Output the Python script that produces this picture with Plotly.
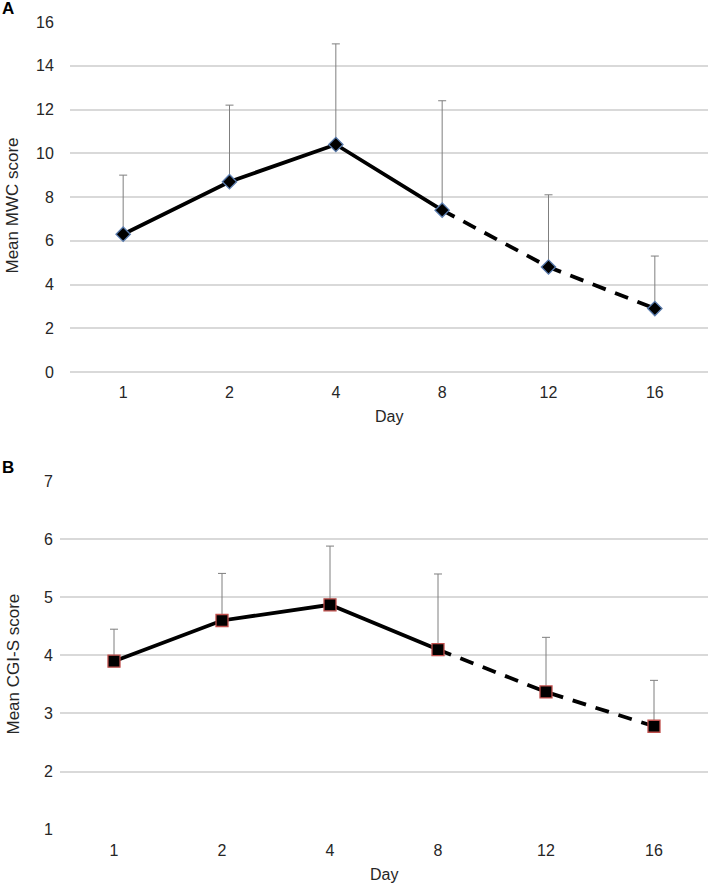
import plotly.graph_objects as go

days = ["1", "2", "4", "8", "12", "16"]

mwc_mean = [6.3, 8.7, 10.4, 7.4, 4.8, 2.9]
mwc_err = [2.7, 3.5, 4.6, 5.0, 3.3, 2.4]

cgi_mean = [3.9, 4.6, 4.87, 4.1, 3.37, 2.78]
cgi_err = [0.55, 0.81, 1.01, 1.30, 0.94, 0.79]

W, H = 708, 888
FONT = "Liberation Sans, Arial, sans-serif"
TXT = "#262626"

fig = go.Figure()

def add_panel(fig, means, errs, xa, ya, symbol, outline, msize):
    fig.add_trace(go.Scatter(
        x=days, y=means, mode="markers", xaxis=xa, yaxis=ya,
        marker=dict(size=1, color="rgba(0,0,0,0)"),
        error_y=dict(type="data", array=errs, arrayminus=[0]*len(errs),
                     symmetric=False, color="#7f7f7f", thickness=1, width=4),
        showlegend=False, hoverinfo="skip"))
    fig.add_trace(go.Scatter(
        x=days[:4], y=means[:4], mode="lines", xaxis=xa, yaxis=ya,
        line=dict(color="black", width=3.8), showlegend=False))
    fig.add_trace(go.Scatter(
        x=days[3:], y=means[3:], mode="lines", xaxis=xa, yaxis=ya,
        line=dict(color="black", width=3.8, dash="14px,10px"), showlegend=False))
    fig.add_trace(go.Scatter(
        x=days, y=means, mode="markers", xaxis=xa, yaxis=ya,
        marker=dict(symbol=symbol, size=msize,
                    color="black", line=dict(color=outline, width=1.3)),
        showlegend=False))

add_panel(fig, mwc_mean, mwc_err, "x", "y", "diamond", "#5a7cae", 11)
add_panel(fig, cgi_mean, cgi_err, "x2", "y2", "square", "#c0504d", 12)

grid = "#d9d9d9"
tickfont = dict(family=FONT, size=16, color=TXT)

common_x = dict(type="category", range=[-0.5, 5.5], showgrid=False,
                showline=False, ticks="outside", ticklen=6,
                tickcolor="rgba(0,0,0,0)", tickfont=tickfont, zeroline=False,
                automargin=False)
common_y = dict(showgrid=True, gridcolor=grid, gridwidth=1.5, showline=False,
                ticks="outside", tickcolor="rgba(0,0,0,0)", tickfont=tickfont,
                automargin=False)

fig.update_layout(
    template="none",
    width=W, height=H,
    margin=dict(l=0, r=0, t=0, b=0, autoexpand=False),
    paper_bgcolor="white", plot_bgcolor="white",
    xaxis=dict(domain=[70/W, 1.0], anchor="y", **common_x),
    yaxis=dict(domain=[1-372/H, 1-22/H], anchor="x", range=[0, 16], dtick=2,
               zeroline=True, zerolinecolor=grid, zerolinewidth=1.5,
               ticklen=12, **common_y),
    xaxis2=dict(domain=[60/W, 1.0], anchor="y2", **common_x),
    yaxis2=dict(domain=[1-830/H, 1-481/H], anchor="x2", range=[0.995, 7],
                dtick=1, zeroline=False, ticklen=3, **common_y),
    annotations=[
        dict(text="<b>A</b>", x=8/W, y=1-8/H, xref="paper", yref="paper",
             xanchor="center", yanchor="middle", showarrow=False,
             font=dict(family=FONT, size=17, color="black")),
        dict(text="<b>B</b>", x=8/W, y=1-467/H, xref="paper", yref="paper",
             xanchor="center", yanchor="middle", showarrow=False,
             font=dict(family=FONT, size=17, color="black")),
        dict(text="Mean MWC score", x=1/W, y=1-206/H, xref="paper", yref="paper",
             xanchor="left", yanchor="middle", textangle=-90, showarrow=False,
             font=dict(family=FONT, size=17, color=TXT)),
        dict(text="Mean CGI-S score", x=1/W, y=1-664/H, xref="paper", yref="paper",
             xanchor="left", yanchor="middle", textangle=-90, showarrow=False,
             font=dict(family=FONT, size=17, color=TXT)),
        dict(text="Day", x=389/W, y=1-417/H, xref="paper", yref="paper",
             xanchor="center", yanchor="middle", showarrow=False,
             font=dict(family=FONT, size=16, color=TXT)),
        dict(text="Day", x=384/W, y=1-874/H, xref="paper", yref="paper",
             xanchor="center", yanchor="middle", showarrow=False,
             font=dict(family=FONT, size=16, color=TXT)),
    ],
)

fig.write_html("out.html", config={"displayModeBar": False},
               post_script="document.body.style.margin='0';document.body.style.overflow='hidden';")
